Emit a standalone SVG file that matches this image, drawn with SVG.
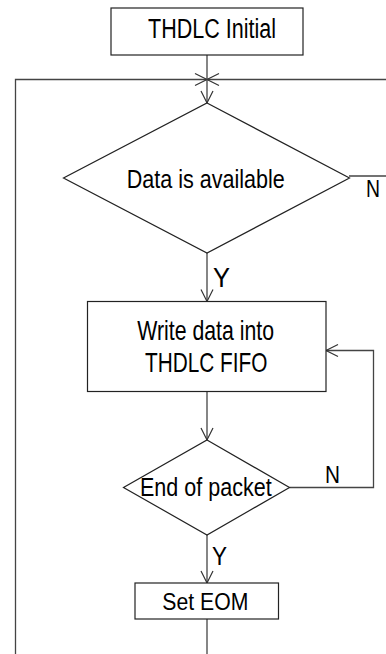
<svg xmlns="http://www.w3.org/2000/svg" width="386" height="654" viewBox="0 0 386 654">
  <style>
    .shape { fill: #ffffff; stroke: #222222; stroke-width: 1.2; }
    .conn { fill: none; stroke: #444444; stroke-width: 1.3; }
    .lbl { font-family: "Liberation Sans", Arial, sans-serif; fill: #000000; }
  </style>
  <defs>
    <marker id="arr" markerUnits="userSpaceOnUse" markerWidth="16" markerHeight="16" viewBox="-14 -8 16 16" refX="0" refY="0" orient="auto">
      <path d="M-12,-6 L0,0 L-12,6" fill="none" stroke="#333333" stroke-width="1.2"/>
    </marker>
  </defs>
  <rect width="386" height="654" fill="#ffffff"/>

  <g id="connectors">
    <!-- outer loop lines -->
    <path class="conn" d="M15.5,654 L15.5,79.5 L207,79.5" marker-end="url(#arr)"/>
    <path class="conn" d="M386,79.5 L207,79.5" marker-end="url(#arr)"/>
    <!-- initial to decision -->
    <path class="conn" d="M207,55 L207,103" marker-end="url(#arr)"/>
    <!-- N from data available -->
    <path class="conn" d="M349,176 L386,176"/>
    <!-- Y to write -->
    <path class="conn" d="M207,253 L207,301.5" marker-end="url(#arr)"/>
    <!-- write to end of packet -->
    <path class="conn" d="M207,391.5 L207,440" marker-end="url(#arr)"/>
    <!-- N loop back -->
    <path class="conn" d="M289.5,487.5 L373.5,487.5 L373.5,350.5 L326,350.5" marker-end="url(#arr)"/>
    <!-- Y to set EOM -->
    <path class="conn" d="M207,535 L207,583" marker-end="url(#arr)"/>
    <!-- set EOM down -->
    <path class="conn" d="M207,619 L207,654"/>
    <text class="lbl" x="366" y="196.7" font-size="24" textLength="14" lengthAdjust="spacingAndGlyphs">N</text>
    <text class="lbl" x="213" y="286.7" font-size="27" textLength="17" lengthAdjust="spacingAndGlyphs">Y</text>
    <text class="lbl" x="325" y="483" font-size="23" textLength="15" lengthAdjust="spacingAndGlyphs">N</text>
    <text class="lbl" x="212" y="565" font-size="25.5" textLength="15" lengthAdjust="spacingAndGlyphs">Y</text>
  </g>

  <g id="thdlc-initial">
    <rect class="shape" x="111" y="8" width="192" height="47"/>
    <text class="lbl" x="148" y="38" font-size="27" textLength="128" lengthAdjust="spacingAndGlyphs">THDLC Initial</text>
  </g>

  <g id="data-available">
    <polygon class="shape" points="207,103 349.5,178 207,253 63.5,178"/>
    <text class="lbl" x="126.7" y="187.7" font-size="25.5" textLength="158" lengthAdjust="spacingAndGlyphs">Data is available</text>
  </g>

  <g id="write-fifo">
    <rect class="shape" x="87.5" y="301.5" width="238.5" height="90"/>
    <text class="lbl" x="137.3" y="340" font-size="28" textLength="136.7" lengthAdjust="spacingAndGlyphs">Write data into</text>
    <text class="lbl" x="145" y="371.5" font-size="28" textLength="122.3" lengthAdjust="spacingAndGlyphs">THDLC FIFO</text>
  </g>

  <g id="end-of-packet">
    <polygon class="shape" points="207,440 289.5,487.5 207,535 123.5,487.5"/>
    <text class="lbl" x="140" y="495.7" font-size="26.5" textLength="131.7" lengthAdjust="spacingAndGlyphs">End of packet</text>
  </g>

  <g id="set-eom">
    <rect class="shape" x="135" y="583" width="143.5" height="36"/>
    <text class="lbl" x="162.3" y="610" font-size="23" textLength="86" lengthAdjust="spacingAndGlyphs">Set EOM</text>
  </g>
</svg>
